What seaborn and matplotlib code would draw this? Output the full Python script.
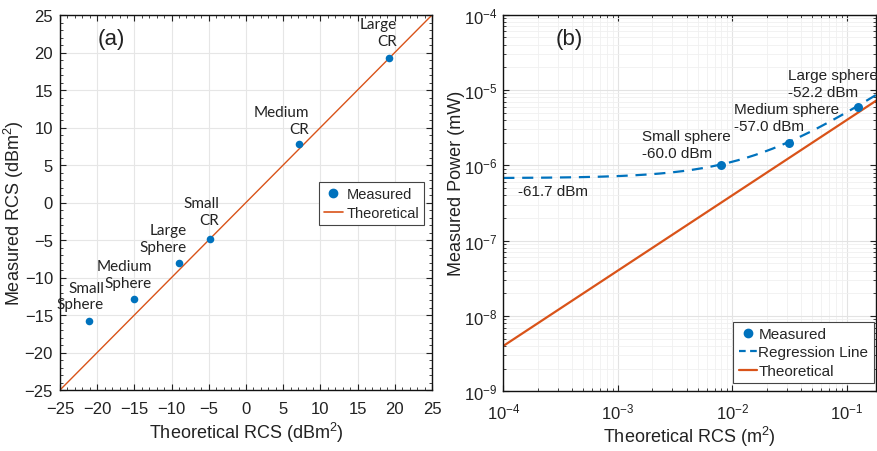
import numpy as np
import pandas as pd
import matplotlib
matplotlib.use("Agg")
import matplotlib.pyplot as plt
import seaborn as sns
from matplotlib.ticker import MultipleLocator, LogLocator, NullFormatter
from matplotlib.lines import Line2D

# ---------------- data: panel (a) ----------------
targets_a = ["Small\nSphere", "Medium\nSphere", "Large\nSphere",
             "Small\nCR", "Medium\nCR", "Large\nCR"]
theoretical_dbsm = [-21.1, -15.05, -9.0, -4.85, 7.15, 19.25]
measured_dbsm = [-15.8, -12.9, -8.1, -4.8, 7.75, 19.25]
theory_line_dbsm = [-25, 25]

# ---------------- data: panel (b) ----------------
spheres = ["Small sphere", "Medium sphere", "Large sphere"]
sphere_rcs_m2 = [0.0079, 0.0314, 0.126]
sphere_power_dbm = [-60.0, -57.0, -52.2]
noise_floor_dbm = -61.7
regression_slope = 4.4e-5   # mW per m^2
theory_gain = 4.0e-5        # mW per m^2
rcs_range = [1e-4, 0.18]

BLUE = "#0072BD"
ORANGE = "#D95319"
TXT = "#222222"

sns.set_style("ticks")
plt.rcParams["font.family"] = ["Liberation Sans", "DejaVu Sans"]
plt.rcParams["mathtext.fontset"] = "custom"
plt.rcParams["mathtext.rm"] = "Liberation Sans"
plt.rcParams["mathtext.it"] = "Liberation Sans:italic"

fig = plt.figure(figsize=(8.77, 4.52), dpi=100)
axa = fig.add_axes([60 / 877, 1 - 391 / 452, 372 / 877, 375 / 452])
axb = fig.add_axes([503.3 / 877, 1 - 392.3 / 452, 372.7 / 877, 376.6 / 452])

# ---------------- panel (a) ----------------
df_a = pd.DataFrame({"theo": theoretical_dbsm, "meas": measured_dbsm, "name": targets_a})
df_line = pd.DataFrame({"x": theory_line_dbsm, "y": theory_line_dbsm})
sns.lineplot(data=df_line, x="x", y="y", ax=axa, color=ORANGE, lw=1.0, zorder=2)
sns.scatterplot(data=df_a, x="theo", y="meas", ax=axa, color=BLUE, s=30,
                edgecolor=BLUE, linewidth=0, zorder=3)
offsets_a = [(15, 25), (18, 25), (8, 25), (9, 27), (10, 24), (8, 25.5)]
for (x, y, n), (dx, dy) in zip(zip(theoretical_dbsm, measured_dbsm, targets_a), offsets_a):
    axa.annotate(n, (x, y), xytext=(dx, dy), textcoords="offset pixels",
                 ha="right", va="center", fontsize=11, family="Lato",
                 color=TXT, linespacing=1.25)
axa.set_xlim(-25, 25)
axa.set_ylim(-25, 25)
axa.xaxis.set_major_locator(MultipleLocator(5))
axa.yaxis.set_major_locator(MultipleLocator(5))
axa.xaxis.set_minor_locator(MultipleLocator(1))
axa.yaxis.set_minor_locator(MultipleLocator(1))
axa.grid(True, which="major", color="#e6e6e6", lw=0.8)
axa.set_axisbelow(True)
axa.set_xlabel("Theoretical RCS (dBm$^2$)", fontsize=13, color=TXT, labelpad=3)
axa.set_ylabel("Measured RCS (dBm$^2$)", fontsize=13, color=TXT)
axa.yaxis.set_label_coords(-0.092, 0.475)
axa.text(0.102, 0.938, "(a)", transform=axa.transAxes, fontsize=16,
         ha="left", va="center", color=TXT)
leg_a = [Line2D([], [], marker="o", ls="none", color=BLUE, ms=6),
         Line2D([], [], color=ORANGE, lw=1.2)]
la = axa.legend(leg_a, ["Measured", "Theoretical"], loc="upper right",
                bbox_to_anchor=(0.979, 0.556), fontsize=10.5, fancybox=False,
                edgecolor="#444444", framealpha=1, handlelength=1.3,
                handletextpad=0.25, borderpad=0.35, labelspacing=0.35,
                borderaxespad=0)
la.get_frame().set_linewidth(0.8)

# ---------------- panel (b) ----------------
x_curve = np.logspace(np.log10(rcs_range[0]), np.log10(rcs_range[1]), 300)
noise_mw = 10 ** (noise_floor_dbm / 10)
df_curve = pd.DataFrame({"x": x_curve,
                         "reg": noise_mw + regression_slope * x_curve,
                         "theo": theory_gain * x_curve})
sphere_power_mw = [10 ** (p / 10) for p in sphere_power_dbm]
df_b = pd.DataFrame({"x": sphere_rcs_m2, "y": sphere_power_mw})

sns.lineplot(data=df_curve, x="x", y="theo", ax=axb, color=ORANGE, lw=1.6, zorder=2)
sns.lineplot(data=df_curve, x="x", y="reg", ax=axb, color=BLUE, lw=1.6, zorder=2)
axb.lines[-1].set_dashes((5, 3.5))
sns.scatterplot(data=df_b, x="x", y="y", ax=axb, color=BLUE, s=42,
                linewidth=0, zorder=3)
axb.set_xscale("log")
axb.set_yscale("log")
axb.set_xlim(rcs_range)
axb.set_ylim(1e-9, 1e-4)
offsets_b = [(-79, 21), (-55, 25), (-70, 23)]
for (x, y, n, p), (dx, dy) in zip(zip(sphere_rcs_m2, sphere_power_mw, spheres,
                                      sphere_power_dbm), offsets_b):
    axb.annotate(f"{n}\n{p:.1f} dBm", (x, y), xytext=(dx, dy),
                 textcoords="offset pixels", ha="left", va="center",
                 fontsize=11, color=TXT, linespacing=1.3)
axb.text(1.34e-4, 4.5e-7, f"{noise_floor_dbm:.1f} dBm", ha="left", va="center",
         fontsize=11, color=TXT)
axb.xaxis.set_major_locator(LogLocator(base=10, numticks=10))
axb.yaxis.set_major_locator(LogLocator(base=10, numticks=10))
axb.xaxis.set_minor_locator(LogLocator(base=10, subs=np.arange(2, 10), numticks=20))
axb.yaxis.set_minor_locator(LogLocator(base=10, subs=np.arange(2, 10), numticks=20))
axb.xaxis.set_minor_formatter(NullFormatter())
axb.yaxis.set_minor_formatter(NullFormatter())
axb.grid(True, which="major", color="#e3e3e3", lw=0.8)
axb.grid(True, which="minor", color="#f0f0f0", lw=0.6)
axb.set_axisbelow(True)
axb.set_xlabel("Theoretical RCS (m$^2$)", fontsize=13, color=TXT, labelpad=2)
axb.set_ylabel("Measured Power (mW)", fontsize=13, color=TXT)
axb.yaxis.set_label_coords(-0.104, 0.556)
axb.text(0.141, 0.938, "(b)", transform=axb.transAxes, fontsize=16,
         ha="left", va="center", color=TXT)
leg_b = [Line2D([], [], marker="o", ls="none", color=BLUE, ms=6),
         Line2D([], [], color=BLUE, lw=1.6, dashes=(3, 2)),
         Line2D([], [], color=ORANGE, lw=1.6)]
lb = axb.legend(leg_b, ["Measured", "Regression Line", "Theoretical"],
                loc="lower right", bbox_to_anchor=(0.994, 0.021), fontsize=11,
                fancybox=False, edgecolor="#444444", framealpha=1,
                handlelength=1.2, handletextpad=0.1, borderpad=0.35,
                labelspacing=0.3, borderaxespad=0)
lb.get_frame().set_linewidth(0.8)

for ax in (axa, axb):
    ax.tick_params(which="both", direction="in", top=True, right=True,
                   labelsize=12, colors=TXT)
    ax.tick_params(which="major", length=4)
    ax.tick_params(which="minor", length=2)
    for s in ax.spines.values():
        s.set_visible(True)
        s.set_linewidth(1.0)
        s.set_color("#111111")
axa.tick_params(axis="x", which="major", pad=8)
axa.tick_params(axis="y", which="major", pad=5)
axb.tick_params(axis="x", which="major", pad=7)
axb.tick_params(axis="y", which="major", pad=4)

fig.savefig("out.png", dpi=100)
